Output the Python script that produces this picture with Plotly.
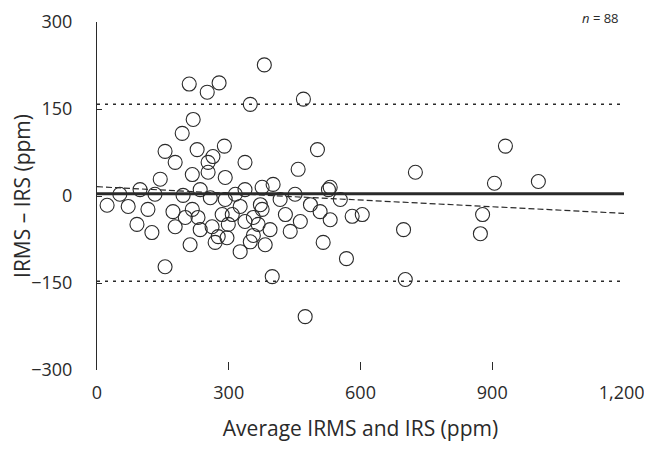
import plotly.graph_objects as go

# Bland-Altman data (average, difference) in ppm
avg_ppm = [210, 278, 251, 219, 194, 155, 178, 228, 290, 264, 144, 217, 253, 292,
           381, 349, 470, 337, 502, 458, 401, 531, 23, 71, 116, 91, 125, 173,
           178, 217, 230, 285, 262, 269, 296, 155, 376, 356, 367, 349, 383, 508,
           531, 581, 604, 515, 568, 399, 474, 527, 930, 725, 905, 1005, 698, 878,
           873, 702, 253, 276, 299, 356, 235, 326, 201, 315, 429, 440, 463, 417,
           258, 132, 52, 554, 486, 394, 326, 212, 337, 196, 292, 376, 451, 372,
           235, 98, 308, 337]
diff_ppm = [193, 195, 179, 132, 108, 77, 58, 80, 86, 68, 29, 37, 41, 32,
            226, 158, 167, 58, 80, 46, 20, 15, -16, -18, -23, -49, -63, -27,
            -53, -23, -37, -32, -53, -80, -72, -122, 15, -37, -49, -79, -84, -27,
            -41, -35, -32, -80, -108, -139, -208, 11, 86, 41, 22, 25, -58, -32,
            -65, -144, 58, -70, -49, -68, -58, -18, -37, 3, -32, -61, -44, -6,
            -3, 3, 3, -6, -15, -58, -96, -84, 11, 1, -6, -23, 3, -15,
            11, 11, -32, -44]

x_range = [0, 1200]
mean_diff = [4, 4]
upper_loa = [158, 158]
lower_loa = [-147, -147]
regression = [16, -30]

x_ticks = [0, 300, 600, 900, 1200]
x_ticktext = ["0", "300", "600", "900", "1,200\u00a0"]
y_ticks = [-300, -150, 0, 150, 300]
y_ticktext = ["\u2212300", "\u2212150", "0", "150", "300"]

ink = "#2a2a2a"
font_family = "Open Sans"

fig = go.Figure()

fig.add_trace(go.Scatter(x=x_range, y=upper_loa, mode="lines",
                         line=dict(color=ink, width=1.5, dash="3px,5px"), showlegend=False))
fig.add_trace(go.Scatter(x=x_range, y=lower_loa, mode="lines",
                         line=dict(color=ink, width=1.5, dash="3px,5px"), showlegend=False))
fig.add_trace(go.Scatter(x=x_range, y=regression, mode="lines",
                         line=dict(color=ink, width=1.2, dash="6px,3px"), showlegend=False))
fig.add_trace(go.Scatter(x=x_range, y=mean_diff, mode="lines",
                         line=dict(color=ink, width=3), showlegend=False))
fig.add_trace(go.Scatter(x=avg_ppm, y=diff_ppm, mode="markers",
                         marker=dict(symbol="circle-open", size=14, color=ink,
                                     line=dict(color=ink, width=1.1)),
                         showlegend=False))

fig.add_annotation(text="<i>n</i> = 88", x=0.955, y=1.0, xref="paper", yref="paper",
                   xanchor="center", yanchor="middle", showarrow=False,
                   font=dict(family=font_family, size=13, color=ink), yshift=4)

fig.update_layout(
    width=652, height=450, autosize=False,
    margin=dict(l=89, r=36, t=14, b=88),
    paper_bgcolor="white", plot_bgcolor="white",
    font=dict(family=font_family, color=ink),
)
fig.update_xaxes(
    range=[0, 1200], tickvals=x_ticks, ticktext=x_ticktext,
    showgrid=False, zeroline=False, showline=False, automargin=False,
    ticks="inside", ticklen=8, tickwidth=1.2, tickcolor=ink,
    tickfont=dict(family=font_family, size=18, color=ink),
    ticklabelstandoff=10,
    title=dict(text="Average IRMS and IRS (ppm)",
               font=dict(family=font_family, size=21, color=ink), standoff=18),
)
fig.update_yaxes(
    range=[-300, 300], tickvals=y_ticks, ticktext=y_ticktext,
    showgrid=False, zeroline=False, showline=True, linecolor=ink, linewidth=1,
    automargin=False,
    ticks="inside", ticklen=5, tickwidth=1, tickcolor=ink,
    tickfont=dict(family=font_family, size=18, color=ink),
    ticklabelstandoff=20,
    title=dict(text="IRMS \u2013 IRS (ppm)",
               font=dict(family=font_family, size=21, color=ink), standoff=0),
)

fig.write_html("out.html")
